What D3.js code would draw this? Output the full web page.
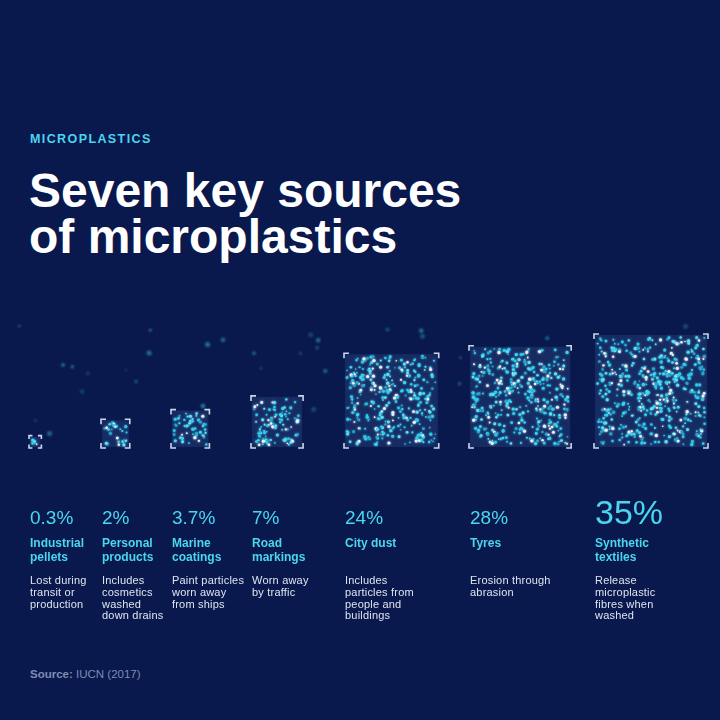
<!DOCTYPE html>
<html>
<head>
<meta charset="utf-8">
<script src="https://cdn.jsdelivr.net/npm/d3@7"></script>
<style>
  html, body { margin: 0; padding: 0; background: #09194d; }
  svg { display: block; font-family: "Liberation Sans", Arial, sans-serif; }
</style>
</head>
<body>
<div id="chart"></div>
<script>
// data read from the graphic (IUCN 2017)
const sources = ["Industrial pellets", "Personal products", "Marine coatings", "Road markings", "City dust", "Tyres", "Synthetic textiles"];
const shares = [0.3, 2, 3.7, 7, 24, 28, 35];
const labelLines = [
    ["Industrial", "pellets"],
    ["Personal", "products"],
    ["Marine", "coatings"],
    ["Road", "markings"],
    ["City dust"],
    ["Tyres"],
    ["Synthetic", "textiles"]
];
const descLines = [
    ["Lost during", "transit or", "production"],
    ["Includes", "cosmetics", "washed", "down drains"],
    ["Paint particles", "worn away", "from ships"],
    ["Worn away", "by traffic"],
    ["Includes", "particles from", "people and", "buildings"],
    ["Erosion through", "abrasion"],
    ["Release", "microplastic", "fibres when", "washed"]
];

const width = 720, height = 720;
const bg = "#09194d";
const cyan = "#4ad6ef";

// left edge of each column
const colX = d3.scaleOrdinal().domain(sources).range([30, 102, 172, 252, 345, 470, 595]);
// square side ~ sqrt of share (area proportional)
const side = d3.scaleSqrt().domain([0, d3.max(shares)]).range([0, 112]);
const baseY = 447;

const rows = sources.map((s, i) => ({
    name: s, value: shares[i], label: labelLines[i], desc: descLines[i]
}));

const svg = d3.select("#chart").append("svg")
    .attr("width", width)
    .attr("height", height)
    .attr("viewBox", [0, 0, width, height]);

svg.append("rect").attr("width", width).attr("height", height).attr("fill", bg);

const defs = svg.append("defs");
const glow = defs.append("filter").attr("id", "glow")
    .attr("x", "-20%").attr("y", "-20%").attr("width", "140%").attr("height", "140%");
glow.append("feGaussianBlur").attr("stdDeviation", 1).attr("result", "b");
const merge = glow.append("feMerge");
merge.append("feMergeNode").attr("in", "b");
merge.append("feMergeNode").attr("in", "SourceGraphic");

defs.append("filter").attr("id", "soft")
    .append("feGaussianBlur").attr("stdDeviation", 1);

// header
svg.append("text")
    .attr("x", 30).attr("y", 143)
    .attr("fill", cyan)
    .style("font-size", "12.5px").style("font-weight", "bold")
    .style("letter-spacing", "1.4px")
    .text("MICROPLASTICS");

svg.append("text")
    .attr("x", 29).attr("y", 207)
    .attr("fill", "#ffffff")
    .style("font-size", "48px").style("font-weight", "bold")
    .selectAll("tspan")
    .data(["Seven key sources", "of microplastics"])
    .join("tspan")
    .attr("x", 29)
    .attr("dy", (d, i) => i ? 46 : 0)
    .text(d => d);

// ambient floating particles (decoration, seeded)
const rndA = d3.randomLcg(7);
const ambient = d3.range(45).map(() => {
    const x = rndA() * 720;
    const y = 325 + rndA() * 115 * (0.4 + 0.6 * (1 - x / 720));
    return { x, y, r: 1 + rndA() * 1.6, o: 0.25 + rndA() * 0.4 };
}).filter(p => !rows.some(d => {
    const s = side(d.value), x0 = colX(d.name);
    return p.x > x0 - 4 && p.x < x0 + s + 4 && p.y > baseY - s - 4;
}));

svg.append("g").attr("filter", "url(#soft)")
    .selectAll("circle")
    .data(ambient)
    .join("circle")
    .attr("cx", d => d.x).attr("cy", d => d.y).attr("r", d => d.r)
    .attr("fill", "#3fb6d6").attr("opacity", d => d.o);

// squares
const dotColors = ["#2fcbec", "#3fd6f2", "#5fe0f7", "#2fcbec", "#dff5fb", "#2aa4cc"];
const cols = svg.append("g").selectAll("g.col")
    .data(rows)
    .join("g")
    .attr("class", "col")
    .attr("transform", d => `translate(${colX(d.name)},0)`);

cols.each(function(d, i) {
    const g = d3.select(this);
    const s = side(d.value);
    const y0 = baseY - s;
    g.append("rect")
        .attr("x", 0).attr("y", y0).attr("width", s).attr("height", s)
        .attr("fill", "#5a80c8").attr("fill-opacity", 0.18);

    const rnd = d3.randomLcg(11 + i * 31);
    const n = Math.max(6, Math.round(s * s * 0.038));
    const dots = d3.range(n).map(() => ({
        x: 2 + rnd() * (s - 4),
        y: y0 + 2 + rnd() * (s - 4),
        r: 0.8 + rnd() * 0.9,
        c: dotColors[Math.floor(rnd() * dotColors.length)]
    }));
    g.append("g").attr("filter", "url(#glow)")
        .selectAll("circle")
        .data(dots)
        .join("circle")
        .attr("cx", p => p.x).attr("cy", p => p.y).attr("r", p => p.r)
        .attr("fill", p => p.c);

    // corner brackets
    const L = Math.min(5, s / 3), o = 1;
    const corners = [
        [[-o, y0 - o + L], [-o, y0 - o], [-o + L, y0 - o]],
        [[s + o - L, y0 - o], [s + o, y0 - o], [s + o, y0 - o + L]],
        [[-o, baseY + o - L], [-o, baseY + o], [-o + L, baseY + o]],
        [[s + o - L, baseY + o], [s + o, baseY + o], [s + o, baseY + o - L]]
    ];
    g.selectAll("path.corner")
        .data(corners)
        .join("path")
        .attr("class", "corner")
        .attr("d", d3.line())
        .attr("fill", "none")
        .attr("stroke", "#cbd8ec")
        .attr("stroke-width", 1.6);
});

// text under the squares
const maxShare = d3.max(shares);
cols.append("text")
    .attr("y", 524)
    .attr("fill", cyan)
    .style("font-size", d => d.value === maxShare ? "34px" : "19px")
    .text(d => d.value + "%");

cols.append("text")
    .attr("y", 547)
    .attr("fill", cyan)
    .style("font-size", "12px").style("font-weight", "bold")
    .selectAll("tspan")
    .data(d => d.label)
    .join("tspan")
    .attr("x", 0)
    .attr("dy", (d, i) => i ? 13.5 : 0)
    .text(d => d);

cols.append("text")
    .attr("y", 584)
    .attr("fill", "#dfe4ef")
    .style("font-size", "11px")
    .style("letter-spacing", "0.2px")
    .selectAll("tspan")
    .data(d => d.desc)
    .join("tspan")
    .attr("x", 0)
    .attr("dy", (d, i) => i ? 11.8 : 0)
    .text(d => d);

// source line
const src = svg.append("text")
    .attr("x", 30).attr("y", 678)
    .attr("fill", "#7d8cb6")
    .style("font-size", "11.5px");
src.append("tspan").style("font-weight", "bold").text("Source: ");
src.append("tspan").text("IUCN (2017)");
</script>
</body>
</html>
